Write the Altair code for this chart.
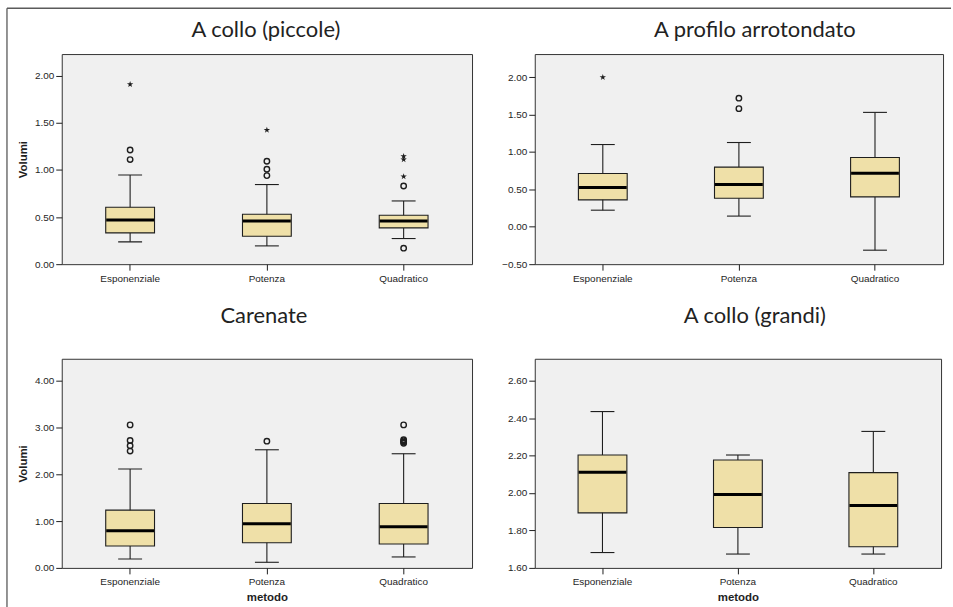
import altair as alt
import pandas as pd

metodi = ["Esponenziale", "Potenza", "Quadratico"]

# --- A collo (piccole) ---
piccole_lo = [0.237, 0.194, 0.272]
piccole_q1 = [0.332, 0.297, 0.385]
piccole_med = [0.470, 0.459, 0.459]
piccole_q3 = [0.604, 0.530, 0.519]
piccole_hi = [0.947, 0.845, 0.671]
piccole_circ_metodo = ["Esponenziale", "Esponenziale", "Potenza", "Potenza", "Potenza", "Quadratico", "Quadratico"]
piccole_circ_val = [1.212, 1.110, 1.092, 1.007, 0.940, 0.830, 0.170]
piccole_star_metodo = ["Esponenziale", "Potenza", "Quadratico", "Quadratico", "Quadratico"]
piccole_star_val = [1.908, 1.424, 1.145, 1.110, 0.930]

# --- A profilo arrotondato ---
profilo_lo = [0.222, 0.143, -0.313]
profilo_q1 = [0.360, 0.382, 0.400]
profilo_med = [0.524, 0.564, 0.715]
profilo_q3 = [0.713, 0.798, 0.927]
profilo_hi = [1.100, 1.127, 1.530]
profilo_circ_metodo = ["Potenza", "Potenza"]
profilo_circ_val = [1.720, 1.580]
profilo_star_metodo = ["Esponenziale"]
profilo_star_val = [2.000]

# --- Carenate ---
carenate_lo = [0.191, 0.120, 0.234]
carenate_q1 = [0.468, 0.539, 0.511]
carenate_med = [0.794, 0.943, 0.879]
carenate_q3 = [1.234, 1.376, 1.376]
carenate_hi = [2.113, 2.525, 2.440]
carenate_circ_metodo = ["Esponenziale", "Esponenziale", "Esponenziale", "Esponenziale",
                        "Potenza",
                        "Quadratico", "Quadratico", "Quadratico", "Quadratico", "Quadratico"]
carenate_circ_val = [3.057, 2.723, 2.610, 2.497,
                     2.709,
                     3.057, 2.740, 2.715, 2.690, 2.665]
carenate_star_metodo = []
carenate_star_val = []

# --- A collo (grandi) ---
grandi_lo = [1.682, 1.674, 1.674]
grandi_q1 = [1.894, 1.816, 1.713]
grandi_med = [2.111, 1.992, 1.933]
grandi_q3 = [2.203, 2.176, 2.109]
grandi_hi = [2.435, 2.203, 2.329]
grandi_circ_metodo = []
grandi_circ_val = []
grandi_star_metodo = []
grandi_star_val = []

BOX_FILL = "#EFE0A8"
INK = "#1e1e1e"
FRAME = "#5a5a5a"
LABEL_FONT = "Liberation Sans"
TITLE_FONT = "Lato"

STAR = ("M0,-1L0.2245,-0.309L0.951,-0.309L0.363,0.118L0.588,0.809L0,0.382"
        "L-0.588,0.809L-0.363,0.118L-0.951,-0.309L-0.2245,-0.309Z")


def line(x, x2, y, y2, color=FRAME, width=1.3):
    """Straight decorative line given in pixel offsets from the plot origin."""
    return alt.Chart(pd.DataFrame({"k": [0]})).mark_rule(
        color=color, strokeWidth=width
    ).encode(x=alt.value(x), x2=alt.value(x2), y=alt.value(y), y2=alt.value(y2))


def heading(text, x, y):
    """Panel heading drawn as a text mark above the plot area."""
    return alt.Chart(pd.DataFrame({"t": [text]})).mark_text(
        font=TITLE_FONT, fontSize=22, color="#222222", align="center",
        baseline="alphabetic",
    ).encode(text="t:N", x=alt.value(x), y=alt.value(y))


def panel(title, lo, q1, med, q3, hi, circ_m, circ_v, star_m, star_v,
          domain, ticks, width, height, ytitle, xtitle, title_y, title_dx, extras):
    box = pd.DataFrame({"metodo": metodi, "lo": lo, "q1": q1, "med": med, "q3": q3, "hi": hi})
    circ = pd.DataFrame({"metodo": circ_m, "v": circ_v})
    star = pd.DataFrame({"metodo": star_m, "v": star_v})

    x = alt.X(
        "metodo:N", sort=metodi,
        scale=alt.Scale(domain=metodi, paddingInner=0, paddingOuter=0),
        axis=alt.Axis(
            title=xtitle if xtitle else None, labelAngle=0, domain=False,
            ticks=True, tickSize=6, tickColor=INK, bandPosition=0.5,
            labelFont=LABEL_FONT, labelFontSize=10, labelColor=INK, labelPadding=3,
            titleFont=LABEL_FONT, titleFontSize=11.5, titleFontWeight="bold",
            titleColor=INK, titlePadding=5,
        ),
    )
    yscale = alt.Scale(domain=domain, nice=False, zero=False)
    yaxis = alt.Axis(
        title=ytitle if ytitle else None, values=ticks, format=".2f", grid=False,
        domain=False, tickSize=6, tickColor=INK, labelFont=LABEL_FONT,
        labelFontSize=10, labelColor=INK, labelPadding=2,
        titleFont=LABEL_FONT, titleFontSize=11.5, titleFontWeight="bold",
        titleColor=INK, titlePadding=6,
    )

    base = alt.Chart(box)
    whisker = base.mark_rule(color=INK, strokeWidth=1.1).encode(
        x=x, y=alt.Y("lo:Q", scale=yscale, axis=yaxis), y2="hi:Q")
    cap_lo = base.mark_tick(color=INK, size=24, thickness=1.1, opacity=1).encode(x=x, y="lo:Q")
    cap_hi = base.mark_tick(color=INK, size=24, thickness=1.1, opacity=1).encode(x=x, y="hi:Q")
    boxes = base.mark_bar(size=49, fill=BOX_FILL, stroke=INK, strokeWidth=1.1, opacity=1).encode(
        x=x, y="q1:Q", y2="q3:Q")
    median = base.mark_tick(color="#000000", size=48, thickness=3, opacity=1).encode(
        x=x, y="med:Q")

    layers = [whisker, cap_lo, cap_hi, boxes, median]
    if len(circ):
        layers.append(alt.Chart(circ).mark_point(
            shape="circle", filled=False, size=30, strokeWidth=1.4, color=INK, opacity=1
        ).encode(x=x, y="v:Q"))
    if len(star):
        layers.append(alt.Chart(star).mark_point(
            shape=STAR, filled=True, size=45, color=INK, opacity=1
        ).encode(x=x, y="v:Q"))
    layers.append(heading(title, width / 2 + title_dx, title_y))
    layers.extend(extras)

    return alt.layer(*layers).properties(width=width, height=height)


# figure frame (top and left edges) drawn from the first panel
frame = [line(-55, 893, -46, -46), line(-55, -55, -46, 556)]

p1 = panel("A collo (piccole)", piccole_lo, piccole_q1, piccole_med, piccole_q3, piccole_hi,
           piccole_circ_metodo, piccole_circ_val, piccole_star_metodo, piccole_star_val,
           [0, 2.23], [0, 0.5, 1.0, 1.5, 2.0], 412, 211, "Volumi", None, -17, -1, frame)

p2 = panel("A profilo arrotondato", profilo_lo, profilo_q1, profilo_med, profilo_q3, profilo_hi,
           profilo_circ_metodo, profilo_circ_val, profilo_star_metodo, profilo_star_val,
           [-0.5, 2.31], [-0.5, 0, 0.5, 1.0, 1.5, 2.0], 410, 211, None, None, -17, 16, [])

p3 = panel("Carenate", carenate_lo, carenate_q1, carenate_med, carenate_q3, carenate_hi,
           carenate_circ_metodo, carenate_circ_val, carenate_star_metodo, carenate_star_val,
           [0, 4.47], [0, 1.0, 2.0, 3.0, 4.0], 412, 210, "Volumi", "metodo", -36, -3, [])

p4 = panel("A collo (grandi)", grandi_lo, grandi_q1, grandi_med, grandi_q3, grandi_hi,
           grandi_circ_metodo, grandi_circ_val, grandi_star_metodo, grandi_star_val,
           [1.6, 2.717], [1.6, 1.8, 2.0, 2.2, 2.4, 2.6], 408, 210, None, "metodo", -36, 17, [])

chart = alt.concat(
    p1, p2, p3, p4, columns=2, bounds="flush",
    spacing={"row": 95, "column": 63},
).properties(
    padding={"left": 5, "top": 5, "right": 0, "bottom": 0},
    background="#ffffff",
).configure_view(
    fill="#F0F0F0", stroke="#333333", strokeWidth=1
)

chart.save("out.html", embed_options={"renderer": "svg", "actions": False})
